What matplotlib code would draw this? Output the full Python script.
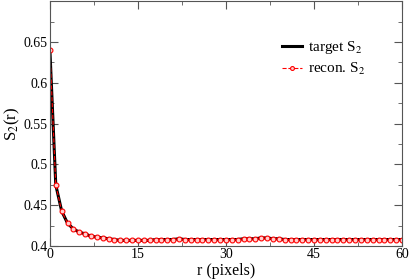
import numpy as np
import matplotlib.pyplot as plt

plt.rcParams['font.family'] = ['Liberation Serif', 'DejaVu Serif']
plt.rcParams['mathtext.fontset'] = 'stix'

# data
r = np.arange(0, 61)
target = [0.640, 0.475, 0.443, 0.428, 0.421, 0.417, 0.415, 0.412, 0.411, 0.410,
          0.409, 0.408, 0.407, 0.407, 0.407, 0.407, 0.407, 0.407, 0.408, 0.408,
          0.408, 0.408, 0.409, 0.408, 0.408, 0.408, 0.408, 0.408, 0.408, 0.408,
          0.408, 0.408, 0.408, 0.409, 0.409, 0.409, 0.410, 0.410, 0.409, 0.409,
          0.408, 0.408, 0.408, 0.408, 0.408, 0.408, 0.408, 0.408, 0.408, 0.408,
          0.408, 0.408, 0.408, 0.408, 0.408, 0.408, 0.408, 0.408, 0.408, 0.408,
          0.408]
recon = [0.640, 0.475, 0.443, 0.428, 0.421, 0.417, 0.415, 0.412, 0.411, 0.410,
         0.409, 0.408, 0.407, 0.407, 0.407, 0.407, 0.407, 0.407, 0.408, 0.408,
         0.408, 0.408, 0.409, 0.408, 0.408, 0.408, 0.408, 0.408, 0.408, 0.408,
         0.408, 0.408, 0.408, 0.409, 0.409, 0.409, 0.410, 0.410, 0.409, 0.409,
         0.408, 0.408, 0.408, 0.408, 0.408, 0.408, 0.408, 0.408, 0.408, 0.408,
         0.408, 0.408, 0.408, 0.408, 0.408, 0.408, 0.408, 0.408, 0.408, 0.408,
         0.408]

fig = plt.figure(figsize=(4.09, 2.79), dpi=100)
ax = fig.add_axes([0.122, 0.118, 0.861, 0.878])

ax.plot(r, target, color='black', lw=2.2, label='target S$_2$')
ax.plot(r, recon, color='red', lw=0.8, ls='--', marker='o', ms=3.5,
        mfc='#ffd0d0', mec='red', mew=0.8, label='recon. S$_2$')

ax.set_xlim(0, 60)
ax.set_ylim(0.4, 0.7)
ax.set_xticks([0, 15, 30, 45, 60])
ax.set_xticks(np.arange(7.5, 60, 15), minor=True)
ax.set_yticks([0.4, 0.45, 0.5, 0.55, 0.6, 0.65])
ax.set_yticklabels(['0.4', '0.45', '0.5', '0.55', '0.6', '0.65'])
ax.set_yticks(np.arange(0.425, 0.7, 0.05), minor=True)
ax.tick_params(which='both', direction='in', top=True, right=True,
               labelsize=10, pad=1.5, color='#555555')
ax.tick_params(which='major', length=6)
ax.tick_params(which='minor', length=3)
for s in ax.spines.values():
    s.set_color('#555555')

ax.set_xlabel('r (pixels)', fontsize=11.5, labelpad=1)
ax.set_ylabel('S$_2$(r)', fontsize=12, labelpad=1)

ax.legend(loc='upper left', bbox_to_anchor=(0.62, 0.9), frameon=False,
          fontsize=11, handlelength=1.3, handletextpad=0.4, labelspacing=0.3,
          markerscale=0.8)

fig.savefig('out.png', dpi=100)
